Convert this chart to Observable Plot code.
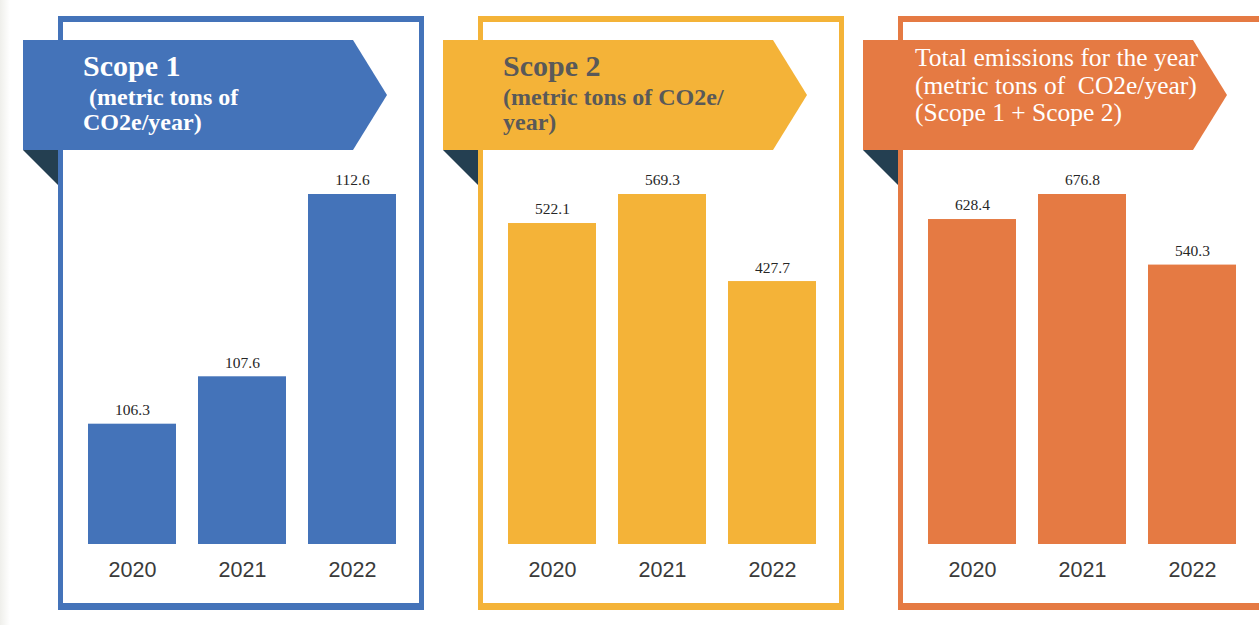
<!DOCTYPE html>
<html>
<head>
<meta charset="utf-8">
<script src="https://cdn.jsdelivr.net/npm/d3@7"></script>
<script src="https://cdn.jsdelivr.net/npm/@observablehq/plot@0.6"></script>
<style>
html, body { margin: 0; padding: 0; background: #fff; }
#root { position: relative; width: 1259px; height: 625px; overflow: hidden; background: #fff; }
.edge { position: absolute; left: 0; top: 0; width: 10px; height: 625px; background: linear-gradient(to right, #efefeb, #ffffff); }
.frame { position: absolute; box-sizing: border-box; top: 16px; width: 366px; height: 594px; border-style: solid; border-width: 6px 5px 7px 5px; }
.plot { position: absolute; top: 0; }
#deco { position: absolute; left: 0; top: 0; }
</style>
</head>
<body>
<div id="root"><div class="edge"></div></div>
<script>
// ---- data ----
const years = ["2020", "2021", "2022"];
const scope1Values = [106.3, 107.6, 112.6];
const scope2Values = [522.1, 569.3, 427.7];
const totalValues = [628.4, 676.8, 540.3];
const panelValues = [scope1Values, scope2Values, totalValues];
const panelBaselines = [103, 0, 0]; // scope 1 axis does not start at zero
const panelColors = ["#4473B9", "#F4B338", "#E57A43"];
const panelTitleLines = [
  ["Scope 1", " (metric tons of", "CO2e/year)"],
  ["Scope 2", "(metric tons of CO2e/", "year)"],
  ["Total emissions for the year", "(metric tons of  CO2e/year)", "(Scope 1 + Scope 2)"]
];

const root = document.getElementById("root");
const W = 420;

// frames
panelColors.forEach((c, i) => {
  const f = document.createElement("div");
  f.className = "frame";
  f.style.left = (58 + W * i) + "px";
  f.style.borderColor = c;
  root.appendChild(f);
});

// charts
panelValues.forEach((vals, i) => {
  const data = years.map((year, j) => ({year, value: vals[j], base: panelBaselines[i]}));
  const chart = Plot.plot({
    width: W,
    height: 625,
    marginLeft: 77,
    marginRight: 13,
    marginTop: 194,
    marginBottom: 81,
    style: {background: "transparent", overflow: "visible"},
    x: {domain: years, paddingInner: 0.2, paddingOuter: 0.1},
    y: {domain: [panelBaselines[i], d3.max(vals)], axis: null},
    marks: [
      Plot.barY(data, {x: "year", y1: "base", y2: "value", fill: panelColors[i]}),
      Plot.text(data, {
        x: "year", y: "value", text: d => d3.format(".1f")(d.value),
        dy: -14, fontSize: 15.5, fontFamily: "Liberation Serif, serif", fill: "#262626"
      }),
      Plot.axisX({
        label: null, tickSize: 0, tickPadding: 17, fontSize: 21.5,
        fontFamily: "Liberation Sans, Arial, sans-serif", color: "#3a3a3a"
      })
    ]
  });
  chart.classList.add("plot");
  chart.style.left = (W * i) + "px";
  root.appendChild(chart);
});

// banners
const ns = "http://www.w3.org/2000/svg";
const deco = document.createElementNS(ns, "svg");
deco.setAttribute("id", "deco");
deco.setAttribute("width", 1259);
deco.setAttribute("height", 625);
root.appendChild(deco);

const textColors = ["#ffffff", "#595959", "#ffffff"];
const lineSpecs = [
  [{x: 83, y: 76, size: 30, weight: "bold"}, {x: 83, y: 105, size: 24, weight: "bold"}, {x: 83, y: 130, size: 24, weight: "bold"}],
  [{x: 503, y: 76, size: 30, weight: "bold"}, {x: 503, y: 105, size: 24, weight: "bold"}, {x: 503, y: 130, size: 24, weight: "bold"}],
  [{x: 915, y: 66, size: 25.5, weight: "normal"}, {x: 915, y: 94, size: 25.5, weight: "normal"}, {x: 915, y: 121, size: 25.5, weight: "normal"}]
];

panelColors.forEach((c, i) => {
  const ox = W * i;
  const poly = document.createElementNS(ns, "polygon");
  const pts = [[23, 40], [353, 40], [387, 95], [353, 150], [23, 150]].map(([x, y]) => (x + ox) + "," + y).join(" ");
  poly.setAttribute("points", pts);
  poly.setAttribute("fill", c);
  deco.appendChild(poly);
  const fold = document.createElementNS(ns, "polygon");
  fold.setAttribute("points", [[23, 150], [58, 150], [58, 185]].map(([x, y]) => (x + ox) + "," + y).join(" "));
  fold.setAttribute("fill", "#243F51");
  deco.appendChild(fold);
  panelTitleLines[i].forEach((line, k) => {
    const s = lineSpecs[i][k];
    const t = document.createElementNS(ns, "text");
    t.setAttribute("x", s.x);
    t.setAttribute("y", s.y);
    t.setAttribute("fill", textColors[i]);
    t.setAttribute("font-family", "Liberation Serif, Times New Roman, serif");
    t.setAttribute("font-size", s.size);
    t.setAttribute("font-weight", s.weight);
    t.setAttribute("style", "white-space: pre");
    t.textContent = line;
    deco.appendChild(t);
  });
});
</script>
</body>
</html>
